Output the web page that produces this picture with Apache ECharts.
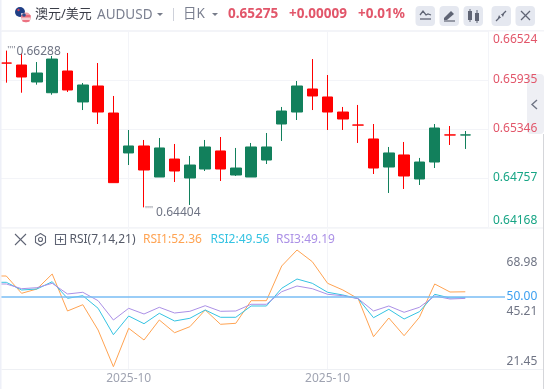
<!DOCTYPE html>
<html><head><meta charset="utf-8">
<style>html,body{margin:0;padding:0;background:#fff}#c{width:544px;height:389px}</style>
<script src="https://cdn.jsdelivr.net/npm/echarts@6/dist/echarts.min.js"></script>
</head><body><div id="c"></div>
<script>
const dates=['2025-09-18','2025-09-19','2025-09-22','2025-09-23','2025-09-24','2025-09-25','2025-09-26','2025-09-29','2025-09-30','2025-10-01','2025-10-02','2025-10-03','2025-10-06','2025-10-07','2025-10-08','2025-10-09','2025-10-10','2025-10-13','2025-10-14','2025-10-15','2025-10-16','2025-10-17','2025-10-20','2025-10-21','2025-10-22','2025-10-23','2025-10-24','2025-10-27','2025-10-28','2025-10-29','2025-10-30','2025-10-31','2025-11-03'];
// open, close, low, high
const candles=['-',
[.66138,.66139,.65903,.66288],[.65971,.66115,.65782,.66256],[.66019,.65911,.65879,.66151],[.66187,.65782,.65758,.66224],
[.65815,.66043,.65791,.66260],[.65875,.65671,.65574,.65899],[.65550,.65863,.65406,.66139],[.64701,.65538,.64701,.65743],
[.65142,.65058,.64913,.65334],[.64853,.65142,.64404,.65214],[.65118,.64769,.64769,.65238],[.64841,.64985,.64709,.65166],
[.64913,.64757,.64433,.65022],[.65130,.64865,.64841,.65214],[.64865,.65082,.64721,.65250],[.64877,.64793,.64781,.65118],
[.65130,.64769,.64769,.65178],[.65130,.64973,.64925,.65298],[.65562,.65406,.65202,.65611],[.65863,.65550,.65454,.65923],
[.65743,.65827,.65574,.66187],[.65550,.65731,.65334,.65995],[.65466,.65550,.65334,.65611],[.65393,.65394,.65178,.65635],
[.64877,.65226,.64805,.65406],[.65058,.64889,.64577,.65130],[.64781,.65034,.64625,.65190],[.64949,.64745,.64673,.64998],
[.65358,.64949,.64877,.65406],[.65274,.65275,.65154,.65382],[.65275,.65274,.65106,.65322],'-'];
const rsi1=[59.95,59.95,51.63,53.70,60.91,43.13,46.15,33.99,16.35,34.81,29.18,38.80,32.69,35.58,43.61,36.73,37.21,48.08,48.08,64.76,72.45,66.83,56.44,53.22,49.04,30.77,39.76,31.25,40.10,56.11,52.26,52.36,'-'];
const rsi2=[56.92,56.92,53.22,53.70,57.21,49.23,50.48,44.42,31.73,40.72,37.02,42.02,38.32,39.62,43.61,40.10,40.10,45.53,45.53,54.04,58.51,56.44,52.12,50.82,49.04,39.90,43.94,39.28,42.79,51.15,49.38,49.56,'-'];
const rsi3=[56.11,56.11,53.85,54.33,56.44,51.30,52.12,48.08,38.80,44.42,41.68,44.90,42.16,42.98,45.67,42.98,43.13,46.35,46.35,52.40,55.14,53.85,51.15,50.48,49.04,43.13,45.53,42.50,44.90,50.34,48.89,49.19,'-'];
const priceTicks=[.64168,.64757,.65346,.65935,.66524];
const rsiTicks=[21.45,45.21,50,68.98];
const monthTickIdx=[9,22];
const quote=['0.65275','+0.00009','+0.01%'];
const rsiPeriods='RSI(7,14,21)';

const RED='#ff0000',GREEN='#12805c',LBLRED='#e2566a',LBLGREEN='#17a585',GRAY='#6f7484',GRID='#f3f4f8';
const FONT='"Noto Sans","Noto Sans CJK SC",sans-serif';
const last=a=>a[a.length-2].toFixed(2);
const G=[];
const txt=(x,y,t,c,s,w,a)=>G.push({type:'text',x,y,silent:true,z:50,style:{text:t,fill:c,font:(w||'normal')+' '+s+'px '+FONT,textVerticalAlign:'middle',textAlign:a||'left'}});
const rect=(x,y,w,h,c,r,z)=>G.push({type:'rect',silent:true,z:z===undefined?40:z,shape:{x,y,width:w,height:h,r:r||0},style:{fill:c}});
const ln=(x1,y1,x2,y2,c,lw,z)=>G.push({type:'line',silent:true,z:z===undefined?45:z,shape:{x1,y1,x2,y2},style:{stroke:c,lineWidth:lw||1}});
const poly=(pts,c,fill,lw)=>G.push({type:fill?'polygon':'polyline',silent:true,z:45,shape:{points:pts},style:fill?{fill:c}:{stroke:c,lineWidth:lw||1.2,fill:null}});
const circ=(x,y,r,fill,stroke)=>G.push({type:'circle',silent:true,z:45,shape:{cx:x,cy:y,r},style:{fill:fill||null,stroke:stroke||null,lineWidth:1.1}});

// frame
rect(0,0,544,30,'#fff');
rect(0,0,1.5,389,'#eef0f8');
rect(1.5,30,543,1.5,GRID,0,-1);
rect(1.5,227.5,543,1,'#eef0f4',0,-1);
rect(1.5,369,543,1,'#eef0f4',0,-1);
// header
circ(20,12,5,'#1f3f86');circ(18.5,10,1.2,'#d9455a');circ(22,14,1,'#e8e8f0');
circ(26,17.5,5,'#f0a0a8');ln(21.5,16,30.5,16,'#e8455a',1.2);ln(21.5,19,30.5,19,'#fff',1);ln(22.5,21,29.5,21,'#e8455a',1);circ(24,15,1.8,'#31508f');
txt(35,14.5,'澳元/美元','#3a3d47',13);
txt(97,15,'AUDUSD','#7a7f8f',13.5);
poly([[157,13],[163,13],[160,16]],'#777c8a',true);
ln(173.5,8,173.5,21,'#ced1da');
txt(183,14.5,'日K','#7a7f8f',13.5);
poly([[212,13],[218,13],[215,16]],'#777c8a',true);
txt(228,14.5,quote[0],LBLRED,13.5,'bold');
txt(289,14.5,quote[1],LBLRED,13.5,'bold');
txt(358,14.5,quote[2],LBLRED,13.5,'bold');
[415.5,439.5,463.5,491.5,515.5].forEach(x=>rect(x,6,19.5,20,'#e5e8f0',4));
const IC='#5f6474';
poly([[420,15],[423,11],[426,15],[428,14],[431,15]],IC,false,1.3);ln(420,19,431,19,IC,1.3);
poly([[444,18],[451,11],[454,14],[447,20],[444,20]],IC,true);ln(444,21,455,21,IC,1.2);
rect(468,11,4,9,IC,0,46);ln(470,9,470,22,IC);rect(475,13,4,8,IC,0,46);ln(477,10,477,23,IC);
poly([[496,21],[500,17]],IC,false,1.3);poly([[499,15],[501,18],[498,18]],IC,true);poly([[506,11],[502,15]],IC,false,1.3);poly([[503,17],[501,14],[504,14]],IC,true);
ln(521,11,530,20,IC,1.2);ln(530,11,521,20,IC,1.2);
// right handle
rect(527,74,17,60,'#eeeff4',4,-1);
poly([[537,100],[532,104.5],[537,109]],'#6f7484',false,1.4);
ln(543.5,134,543.5,389,'#d5d6da',1);
[[326,'#d9534f'],[342,'#4a78c8'],[358,'#e89a3c'],[365,'#12805c']].forEach(a=>rect(543,a[0],1,4,a[1]));
// RSI legend
ln(15,234,26,245,IC,1.1);ln(26,234,15,245,IC,1.1);
poly([[40.5,233.5],[45.5,236.5],[45.5,242.5],[40.5,245.5],[35.5,242.5],[35.5,236.5],[40.5,233.5]],IC,false,1.1);circ(40.5,239.5,2,null,IC);
G.push({type:'rect',silent:true,z:45,shape:{x:55.5,y:234.5,width:10,height:10},style:{fill:null,stroke:IC,lineWidth:1.1}});
ln(60.5,236.5,60.5,242.5,IC);ln(57.5,239.5,63.5,239.5,IC);
txt(69.5,240,rsiPeriods,'#555a68',12);
txt(143,240,'RSI1:'+last(rsi1),'#ffa352',12);
txt(210.5,240,'RSI2:'+last(rsi2),'#35c3e2',12);
txt(276,240,'RSI3:'+last(rsi3),'#ab90e6',12);

const hi=candles[1][3],lo=candles[10][2];
const mark=(idx,val,dy,gap)=>({coord:[dates[idx],val],symbol:'circle',symbolSize:0,itemStyle:{color:'transparent'},
 label:{show:true,position:'right',distance:0,offset:[0,dy],formatter:'{d|\'\'\'\'}{t|'+val.toFixed(5)+'}',rich:{d:{fontSize:9,color:'#777c8a',padding:[0,gap,3,1],fontFamily:FONT},t:{fontSize:12,color:GRAY,fontFamily:FONT}}}});
const isTick=i=>monthTickIdx.includes(i);
const baseX={type:'category',data:dates,boundaryGap:true,axisLine:{show:false},axisTick:{show:false,alignWithLabel:true},axisPointer:{show:false}};

const option={animation:false,backgroundColor:'#fff',
 graphic:{elements:G},
 grid:[{left:-16.65,width:504.9,top:31,height:196,outerBoundsMode:'none'},{left:-16.65,width:504.9,top:229,height:140,outerBoundsMode:'none'}],
 xAxis:[
  Object.assign({},baseX,{gridIndex:0,axisLabel:{show:false},splitLine:{show:true,alignWithLabel:true,interval:i=>isTick(i),lineStyle:{color:GRID,width:1}}}),
  Object.assign({},baseX,{gridIndex:1,axisLabel:{show:true,interval:i=>isTick(i),formatter:v=>v.slice(0,7),color:'#a0a4b2',fontSize:12,margin:4,fontFamily:FONT,hideOverlap:false},splitLine:{show:true,alignWithLabel:true,interval:i=>isTick(i),lineStyle:{color:GRID,width:1}}})
 ],
 yAxis:[
  {gridIndex:0,type:'value',position:'right',min:.64168,max:.66524,
   axisLine:{show:true,lineStyle:{color:GRID}},axisTick:{show:false,customValues:priceTicks},
   splitLine:{show:true,lineStyle:{color:GRID,width:1}},
   axisLabel:{customValues:priceTicks,margin:4.7,fontSize:12,fontFamily:FONT,padding:[3,0,0,0],formatter:v=>v.toFixed(5),color:v=>v>.65?LBLRED:LBLGREEN,verticalAlignMaxLabel:'top',verticalAlignMinLabel:'bottom'}},
  {gridIndex:1,type:'value',position:'right',min:15.24,max:82.55,
   axisLine:{show:false},axisTick:{show:false,customValues:rsiTicks},splitLine:{show:false},
   axisLabel:{customValues:rsiTicks,margin:49,align:'right',fontSize:12,fontFamily:FONT,
    formatter:v=>v===50?'{b|50.00}':'{g|'+v.toFixed(2)+'}',
    rich:{b:{color:'#3b9ff0',fontSize:12,fontFamily:FONT},g:{color:GRAY,fontSize:12,fontFamily:FONT,padding:[10,0,0,0]}}}}
 ],
 series:[
  {type:'candlestick',xAxisIndex:0,yAxisIndex:0,data:candles,barWidth:11,
   itemStyle:{color:RED,color0:GREEN,borderColor:RED,borderColor0:GREEN,borderWidth:1},
   markPoint:{silent:true,animation:false,data:[mark(1,hi,1,1),mark(10,lo,5,3)]}},
  {type:'line',xAxisIndex:1,yAxisIndex:1,data:rsi1,showSymbol:false,symbol:'none',lineStyle:{color:'#ffa352',width:1},z:3},
  {type:'line',xAxisIndex:1,yAxisIndex:1,data:rsi2,showSymbol:false,symbol:'none',lineStyle:{color:'#35c3e2',width:1},z:3},
  {type:'line',xAxisIndex:1,yAxisIndex:1,data:rsi3,showSymbol:false,symbol:'none',lineStyle:{color:'#ab90e6',width:1},z:3,
   markLine:{silent:true,animation:false,symbol:'none',label:{show:false},lineStyle:{color:'#78bcf5',width:1.6,type:'solid'},data:[[{x:0,yAxis:50},{x:505,yAxis:50}]]}}
 ]};
echarts.init(document.getElementById('c'),null,{renderer:'canvas'}).setOption(option);
</script></body></html>
